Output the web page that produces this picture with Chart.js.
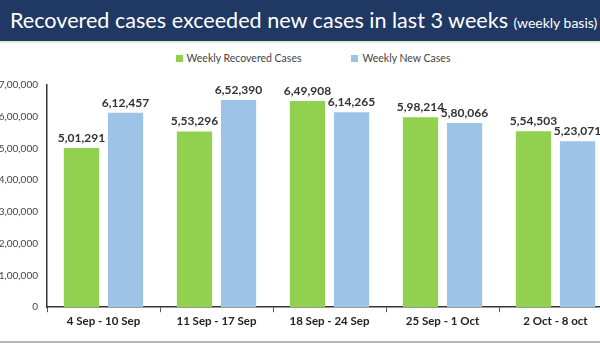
<!DOCTYPE html>
<html>
<head>
<meta charset="utf-8">
<script src="https://cdn.jsdelivr.net/npm/chart.js@4/dist/chart.umd.min.js"></script>
<style>
  html, body { margin: 0; padding: 0; background: #fff; overflow: hidden; }
  body { width: 600px; height: 350px; position: relative; font-family: Lato, "Open Sans", sans-serif; }
  .banner {
    position: absolute; left: 0; top: 0; width: 600px; height: 41px;
    background: #1f3864; border-bottom: 2px solid #e4ecd2;
    color: #fff; white-space: nowrap; overflow: hidden;
  }
  .banner .main { position: absolute; left: 10px; top: 7px; font-size: 21.6px; }
  .banner .sub { font-size: 14px; }
  .legend {
    position: absolute; top: 52px; left: 0; width: 626px;
    display: flex; justify-content: center; gap: 50px;
    font-size: 10.5px; color: #444;
  }
  .legend span { display: flex; align-items: center; }
  .legend i { display: inline-block; width: 7px; height: 7px; margin-right: 4px; }
  .wrap { position: absolute; left: 0; top: 70px; width: 620px; height: 260px; }
  .rule { position: absolute; left: 0; top: 341px; width: 600px; height: 2px; background: #b4b4b4; }
</style>
</head>
<body>
<div class="banner"><span class="main">Recovered cases exceeded new cases in last 3 weeks <span class="sub">(weekly basis)</span></span></div>
<div class="legend" id="legend"></div>
<div class="wrap"><canvas id="chart"></canvas></div>
<div class="rule"></div>
<script>
'use strict';

const WEEKS = ['4 Sep - 10 Sep', '11 Sep - 17 Sep', '18 Sep - 24 Sep', '25 Sep - 1 Oct', '2 Oct - 8 oct'];
const RECOVERED = [501291, 553296, 649908, 598214, 554503];
const NEW_CASES = [612457, 652390, 614265, 580066, 523071];
const Y_TICKS = [0, 100000, 200000, 300000, 400000, 500000, 600000, 700000];

const GREEN = '#92d050';
const BLUE = '#9dc3e6';
const FONT = 'Lato, "Open Sans", sans-serif';

// indian grouping: 6,12,457
const inr = v => {
  const s = String(Math.round(v));
  if (s.length <= 3) return s;
  const last3 = s.slice(-3);
  const rest = s.slice(0, -3).replace(/\B(?=(\d{2})+(?!\d))/g, ',');
  return `${rest},${last3}`;
};

const valueLabels = {
  id: 'valueLabels',
  afterDatasetsDraw(chart) {
    const ctx = chart.ctx;
    ctx.save();
    ctx.font = `bold 12px ${FONT}`;
    ctx.fillStyle = '#333';
    ctx.textAlign = 'center';
    ctx.textBaseline = 'bottom';
    chart.data.datasets.forEach((ds, i) => {
      chart.getDatasetMeta(i).data.forEach((bar, j) => {
        ctx.fillText(inr(ds.data[j]), bar.x, bar.y - 4);
      });
    });
    ctx.restore();
  }
};

const chart = new Chart(document.getElementById('chart'), {
  type: 'bar',
  data: {
    labels: WEEKS,
    datasets: [
      { label: 'Weekly Recovered Cases', data: RECOVERED, backgroundColor: GREEN },
      { label: 'Weekly New Cases', data: NEW_CASES, backgroundColor: BLUE }
    ]
  },
  options: {
    responsive: true,
    maintainAspectRatio: false,
    animation: false,
    layout: { padding: { top: 10, right: 8, left: 0, bottom: 0 } },
    datasets: { bar: { categoryPercentage: 0.78, barPercentage: 0.8 } },
    plugins: {
      legend: { display: false },
      tooltip: { enabled: false }
    },
    scales: {
      x: {
        grid: { display: true, drawOnChartArea: false, drawTicks: true, tickLength: 5, color: '#555' },
        border: { display: true, color: '#333', width: 1.5 },
        ticks: { color: '#222', padding: 2, font: { family: FONT, size: 11.5, weight: 'bold' } }
      },
      y: {
        min: 0,
        max: 700000,
        afterBuildTicks: s => { s.ticks = Y_TICKS.map(v => ({ value: v })); },
        afterFit: s => { s.width = 47; },
        grid: { display: false, drawTicks: false },
        border: { display: true, color: '#333', width: 1.5 },
        ticks: { color: '#444', padding: 9, callback: v => inr(v), font: { family: FONT, size: 10 } }
      }
    }
  },
  plugins: [valueLabels]
});

// legend built from the chart's datasets
document.getElementById('legend').innerHTML = chart.data.datasets
  .map(ds => `<span><i style="background:${ds.backgroundColor}"></i>${ds.label}</span>`)
  .join('');
</script>
</body>
</html>
